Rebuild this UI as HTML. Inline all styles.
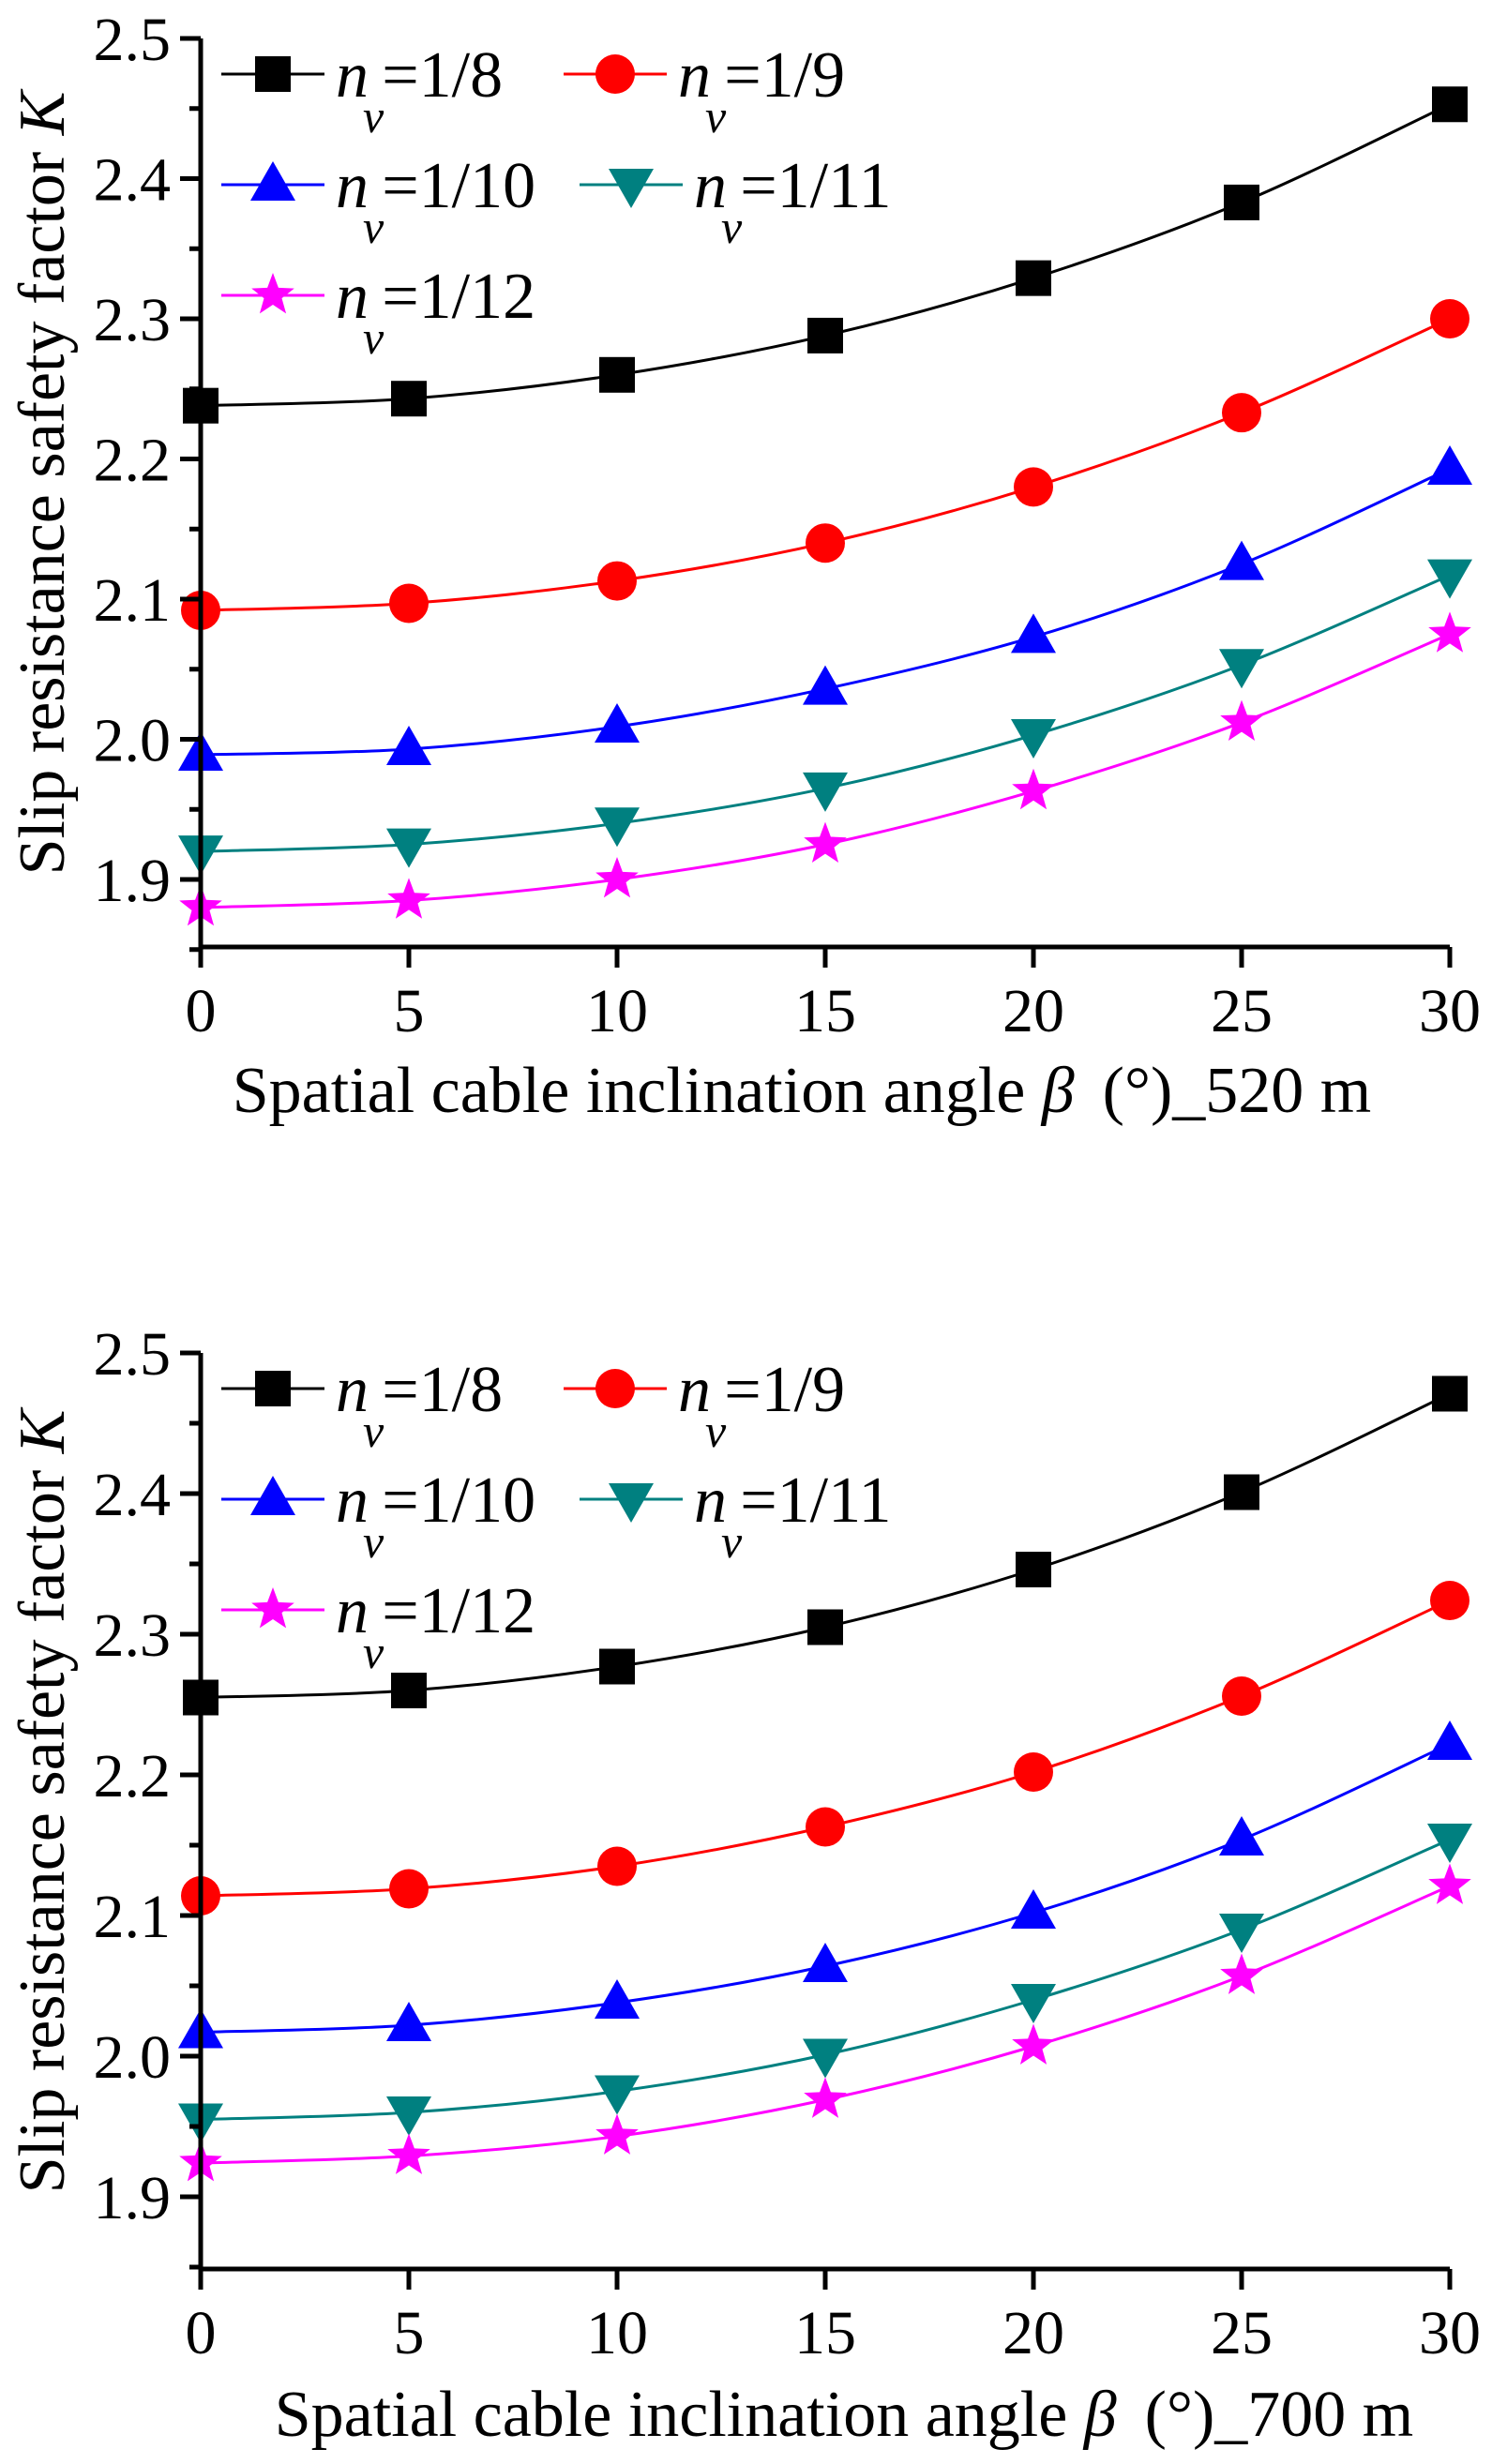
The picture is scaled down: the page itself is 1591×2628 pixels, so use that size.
<!DOCTYPE html>
<html><head><meta charset="utf-8"><style>
html,body{margin:0;padding:0;background:#fff;}
svg{display:block;font-family:"Liberation Serif","DejaVu Serif",serif;}
</style></head><body>
<svg id="fig" width="1591" height="2628" viewBox="0 0 1591 2628" xmlns="http://www.w3.org/2000/svg"></svg>
<script>
const categories=[0,5,10,15,20,25,30];
const xTickLabels=["0","5","10","15","20","25","30"];
const yTickLabels=["1.9","2.0","2.1","2.2","2.3","2.4","2.5"];
const seriesNames=["1/8","1/9","1/10","1/11","1/12"];
const top18=[2.238,2.243,2.260,2.288,2.329,2.383,2.453];
const top19=[2.092,2.097,2.113,2.140,2.180,2.233,2.300];
const top110=[1.989,1.993,2.009,2.036,2.073,2.125,2.193];
const top111=[1.920,1.925,1.940,1.965,2.003,2.053,2.117];
const top112=[1.880,1.885,1.900,1.925,1.963,2.012,2.075];
const bot18=[2.255,2.260,2.277,2.305,2.346,2.401,2.471];
const bot19=[2.114,2.119,2.135,2.163,2.202,2.256,2.324];
const bot110=[2.017,2.022,2.038,2.064,2.102,2.154,2.222];
const bot111=[1.955,1.960,1.975,2.001,2.040,2.090,2.154];
const bot112=[1.924,1.929,1.943,1.969,2.007,2.057,2.121];

const NS="http://www.w3.org/2000/svg";
const svg=document.getElementById('fig');
const colors=["#000000","#ff0000","#0000ff","#008080","#ff00ff"];
const shapes=["square","circle","tri","tridown","star"];
function el(tag,attrs,parent){const e=document.createElementNS(NS,tag);for(const k in attrs)e.setAttribute(k,attrs[k]);(parent||svg).appendChild(e);return e;}

function marker(g,shape,cx,cy,color){
  let m;
  if(shape==="square") m=el('rect',{x:cx-19,y:cy-19,width:38,height:38,fill:color},g);
  else if(shape==="circle") m=el('circle',{cx:cx,cy:cy,r:21,fill:color},g);
  else if(shape==="tri") m=el('polygon',{points:`${cx},${cy-25} ${cx+24},${cy+17} ${cx-24},${cy+17}`,fill:color},g);
  else if(shape==="tridown") m=el('polygon',{points:`${cx},${cy+25} ${cx+24},${cy-17} ${cx-24},${cy-17}`,fill:color},g);
  else {let p=[];for(let i=0;i<10;i++){const r=i%2?10:24;const a=-Math.PI/2+i*Math.PI/5;p.push((cx+r*Math.cos(a)).toFixed(1)+','+(cy+r*Math.sin(a)).toFixed(1));}
    m=el('polygon',{points:p.join(' '),fill:color},g);}
  
  
}

function chart(prefix,data,yTop,yBot,axisY,title,titleX,titleY){
  const x0=214,x1=1546;
  const sx=v=>x0+(v-0)/(30-0)*(x1-x0);
  const sy=v=>yBot-(v-1.9)/(2.5-1.9)*(yBot-yTop);
  const g=el('g',{});
  
  
  data.forEach((vals,si)=>{
    const pts=vals.map((v,i)=>[sx(categories[i]),sy(v)]);
    let d=`M${pts[0][0]},${pts[0][1]}`;
    for(let i=0;i<pts.length-1;i++){
      const p0=pts[Math.max(0,i-1)],p1=pts[i],p2=pts[i+1],p3=pts[Math.min(pts.length-1,i+2)];
      const c1=[p1[0]+(p2[0]-p0[0])/6,p1[1]+(p2[1]-p0[1])/6];
      const c2=[p2[0]-(p3[0]-p1[0])/6,p2[1]-(p3[1]-p1[1])/6];
      d+=` C${c1[0]},${c1[1]} ${c2[0]},${c2[1]} ${p2[0]},${p2[1]}`;
    }
    const path=el('path',{d:d,fill:'none',stroke:colors[si],'stroke-width':3},g);
    
    
    pts.forEach(p=>marker(g,shapes[si],p[0],p[1],colors[si]));
  });
  const ax=el('path',{d:`M${x0},${yTop} L${x0},${axisY} L${x1},${axisY}`,fill:'none',stroke:'#000','stroke-width':5},g);
  
  
  yTickLabels.forEach((lab,i)=>{
    const v=parseFloat(lab);const y=sy(v);
    el('line',{x1:x0-22,y1:y,x2:x0,y2:y,stroke:'#000','stroke-width':5},g);
    if(i<yTickLabels.length-1){const ym=sy(v+0.05);el('line',{x1:x0-12,y1:ym,x2:x0,y2:ym,stroke:'#000','stroke-width':5},g);}
    const t=el('text',{x:182,y:y+23,'font-size':66,'text-anchor':'end'},g);
    t.textContent=lab;
    
    
  });
  el('line',{x1:x0-12,y1:sy(1.85),x2:x0,y2:sy(1.85),stroke:'#000','stroke-width':5},g);
  categories.forEach((c,i)=>{
    const x=sx(c);
    el('line',{x1:x,y1:axisY,x2:x,y2:axisY+22,stroke:'#000','stroke-width':5},g);
    const t=el('text',{x:x,y:axisY+90,'font-size':66,'text-anchor':'middle'},g);
    t.textContent=xTickLabels[i];
    
    
  });
  const yt=el('text',{x:0,y:0,'font-size':70,'text-anchor':'middle',transform:`translate(68,${(yTop+axisY)/2-10}) rotate(-90)`},g);
  yt.innerHTML='Slip resistance safety factor  <tspan font-style="italic">K</tspan>';
  
  
  const xt=el('text',{x:titleX,y:titleY,'font-size':70,'text-anchor':'middle'},g);
  xt.innerHTML='Spatial cable inclination angle <tspan font-style="italic">β</tspan><tspan dx="30">(°)_</tspan>'+title;
  
  
  const pos=[[236,yTop+38],[601,yTop+38],[236,yTop+156],[618,yTop+156],[236,yTop+274]];
  seriesNames.forEach((n,si)=>{
    const [lx,ly]=pos[si];
    const lg=el('g',{},g);
    
    
    el('line',{x1:lx,y1:ly,x2:lx+110,y2:ly,stroke:colors[si],'stroke-width':3},lg);
    marker(lg,shapes[si],lx+55,ly,colors[si]);
    const t=el('text',{x:lx+122,y:ly+24,'font-size':70},lg);
    t.innerHTML='<tspan font-style="italic">n</tspan><tspan font-style="italic" font-size="50" dy="38" dx="-6">v</tspan><tspan dy="-38" dx="-2">=1/'+n.split('/')[1]+'</tspan>';
  });
}
chart('top',[top18,top19,top110,top111,top112],41,938,1010,'520 m',855,1186);
chart('bottom',[bot18,bot19,bot110,bot111,bot112],1443,2343,2420,'700 m',900,2598);
</script>
</body></html>
